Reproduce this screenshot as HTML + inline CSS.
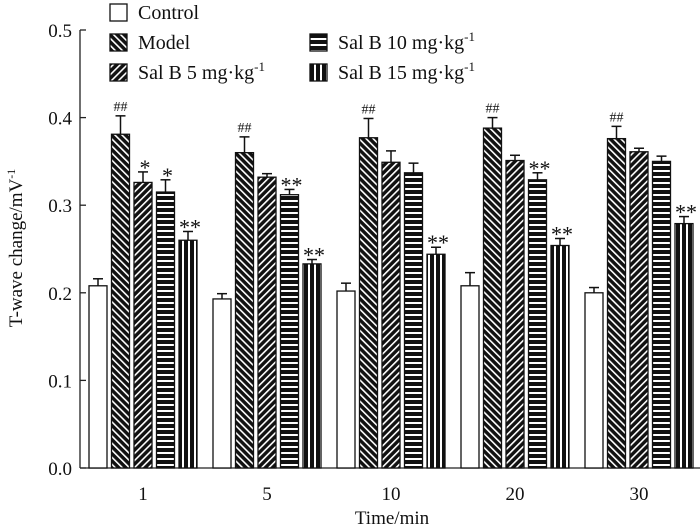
<!DOCTYPE html>
<html><head><meta charset="utf-8"><style>
body{margin:0;background:#fff;}
svg{display:block;font-family:"Liberation Serif",serif;}
</style></head><body>
<svg id="c" width="700" height="530">
<defs>
<pattern id="p1" patternUnits="userSpaceOnUse" width="5" height="5" patternTransform="rotate(-45)"><rect width="5" height="5" fill="#111"/><rect x="0" y="0" width="1.6" height="5" fill="#fff"/></pattern>
<pattern id="p2" patternUnits="userSpaceOnUse" width="5" height="5" patternTransform="rotate(45)"><rect width="5" height="5" fill="#111"/><rect x="0" y="0" width="1.6" height="5" fill="#fff"/></pattern>
<pattern id="p3" patternUnits="userSpaceOnUse" width="6" height="6"><rect width="6" height="6" fill="#111"/><rect x="0" y="2" width="6" height="2" fill="#fff"/></pattern>
<pattern id="p4" patternUnits="userSpaceOnUse" width="6" height="6"><rect width="6" height="6" fill="#111"/><rect x="2" y="0" width="2" height="6" fill="#fff"/></pattern>
</defs>
</svg>
<script>
const categories=["1","5","10","20","30"];
const seriesNames=["Control","Model","Sal B 5 mg·kg","Sal B 10 mg·kg","Sal B 15 mg·kg"];
const control=[0.208,0.193,0.202,0.208,0.200];
const controlErr=[0.008,0.006,0.009,0.015,0.006];
const model=[0.381,0.360,0.377,0.388,0.376];
const modelErr=[0.021,0.018,0.022,0.012,0.014];
const salb5=[0.326,0.332,0.349,0.351,0.361];
const salb5Err=[0.012,0.004,0.013,0.006,0.004];
const salb10=[0.315,0.312,0.337,0.329,0.350];
const salb10Err=[0.014,0.006,0.011,0.008,0.006];
const salb15=[0.260,0.233,0.244,0.254,0.279];
const salb15Err=[0.010,0.005,0.008,0.008,0.008];
const modelMarks=["##","##","##","##","##"];
const salb5Marks=["*","","","",""];
const salb10Marks=["*","**","","**",""];
const salb15Marks=["**","**","**","**","**"];
const yTicks=[0,0.1,0.2,0.3,0.4,0.5];

const svg=document.getElementById('c');
const NS='http://www.w3.org/2000/svg';
function el(t,a,p){const e=document.createElementNS(NS,t);for(const k in a)e.setAttribute(k,a[k]);(p||svg).appendChild(e);return e;}
const y=v=>468-v*876;
const x=i=>143+i*124;
const fills=["#fff","url(#p1)","url(#p2)","url(#p3)","url(#p4)"];
const series=[control,model,salb5,salb10,salb15];
const errs=[controlErr,modelErr,salb5Err,salb10Err,salb15Err];
const marks=[null,modelMarks,salb5Marks,salb10Marks,salb15Marks];
const bw=18,step=22.5;
let a=el('line',{x1:80,y1:30,x2:80,y2:468,stroke:'#222','stroke-width':1.3});

a=el('line',{x1:80,y1:468,x2:700,y2:468,stroke:'#222','stroke-width':1.3});

yTicks.forEach(v=>{
 const t=el('line',{x1:80,y1:y(v),x2:86,y2:y(v),stroke:'#222','stroke-width':1.3});
 
 const l=el('text',{x:72,y:y(v)+7,'text-anchor':'end','font-size':19,fill:'#111'});
 l.textContent=v.toFixed(1);
 
});
categories.forEach((c,i)=>{
 const l=el('text',{x:x(i),y:500,'text-anchor':'middle','font-size':19,fill:'#111'});
 l.textContent=c;
 
 series.forEach((s,j)=>{
  const bx=x(i)+(j-2)*step-bw/2;
  const top=y(s[i]),et=y(s[i]+errs[j][i]);
  const e=el('line',{x1:bx+bw/2,y1:top,x2:bx+bw/2,y2:et,stroke:'#111','stroke-width':1.5});
  
  const cap=el('line',{x1:bx+bw/2-5,y1:et,x2:bx+bw/2+5,y2:et,stroke:'#111','stroke-width':1.5});
  
  const r=el('rect',{x:bx,y:top,width:bw,height:468-top,fill:fills[j],stroke:'#111','stroke-width':1.3});
  
  if(marks[j]&&marks[j][i]){
   const m=marks[j][i];
   const isHash=m[0]=='#';
   const t=el('text',{x:bx+bw/2+(isHash?0:2),y:isHash?et-5:et+3,'text-anchor':'middle','font-size':isHash?14:22,fill:'#111'});
   t.textContent=m;
   
  }
 });
});
let t=el('text',{x:392,y:524,'text-anchor':'middle','font-size':19,fill:'#111'});
t.textContent='Time/min';
t=el('text',{x:0,y:0,'text-anchor':'middle','font-size':19,fill:'#111',transform:'translate(22,248) rotate(-90)'});
t.innerHTML='T-wave change/mV<tspan dy="-7" font-size="12">-1</tspan>';

const leg=[[110,12,0],[110,42,1],[110,72,2],[310,42,3],[310,72,4]];
leg.forEach(([lx,ly,j])=>{
 const g=el('g',{});
 
 el('rect',{x:lx,y:ly-8,width:17,height:17,fill:fills[j],stroke:'#111','stroke-width':1.3},g);
 const tx=el('text',{x:lx+28,y:ly+7,'font-size':20,fill:'#111'},g);
 tx.innerHTML=seriesNames[j]+(j>=2?'<tspan dy="-8" font-size="13">-1</tspan>':'');
});
</script>
</body></html>
